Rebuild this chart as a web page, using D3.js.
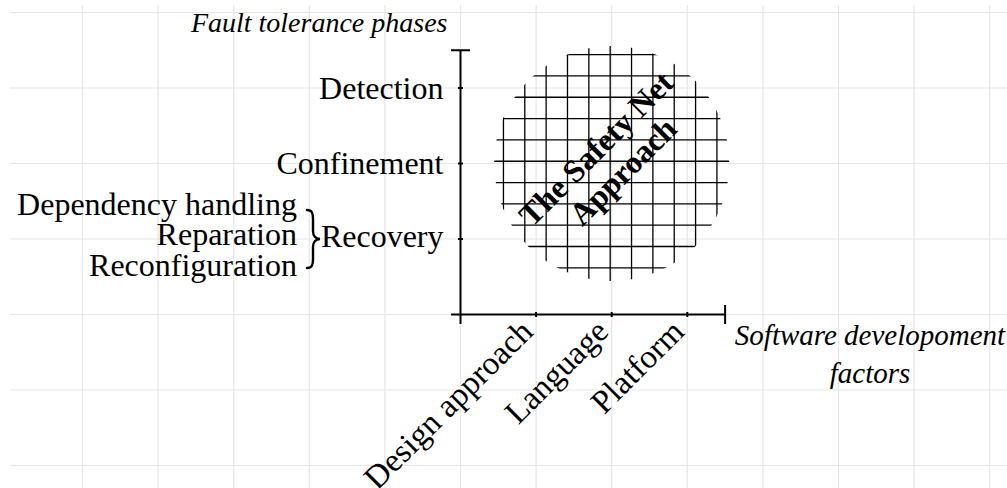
<!DOCTYPE html>
<html><head><meta charset="utf-8">
<script src="https://cdn.jsdelivr.net/npm/d3@7"></script>
<style>body{margin:0;background:#fff} svg{display:block}</style>
</head><body><svg id="chart" width="1007" height="488"></svg>
<script>
// ---- data ----
const phases = ["Recovery", "Confinement", "Detection"];
const phaseLevels = [1, 2, 3];
const factors = ["Design approach", "Language", "Platform"];
const factorLevels = [1, 2, 3];
const recoverySteps = ["Dependency handling", "Reparation", "Reconfiguration"];
const yTitle = ["Fault tolerance phases"];
const xTitle = ["Software developoment", "factors"];
const netLabel = ["The Safety Net", "Approach"];
const netCenter = [2, 2];          // (Language, Confinement)
const netRadius = [1.555];
const axisMax = [3.5];
const bgGridRange = [-5, 7];       // background grid in axis units (x)
const bgGridRangeY = [-2, 4];

// ---- layout ----
const svg = d3.select("#chart");
const W = 1007, H = 488;
const unitX = 75.6, unitY = 75.5;
const ox = 460.5, oy = 314.5;
const x = d3.scaleLinear().domain([0, axisMax[0]]).range([ox, ox + axisMax[0] * unitX]);
const y = d3.scaleLinear().domain([0, axisMax[0]]).range([oy, oy - axisMax[0] * unitY]);
const serif = "'Liberation Serif', 'Times New Roman', serif";

svg.append("rect").attr("width", W).attr("height", H).attr("fill", "#fff");

// background grid
const bg = svg.append("g").attr("stroke", "#e6e6e6").attr("stroke-width", 1.2);
bg.selectAll("line.v").data(d3.range(bgGridRange[0], bgGridRange[1] + 1)).join("line")
  .attr("class", "v").attr("x1", d => x(d)).attr("x2", d => x(d)).attr("y1", 5).attr("y2", H);
bg.selectAll("line.h").data(d3.range(bgGridRangeY[0], bgGridRangeY[1] + 1)).join("line")
  .attr("class", "h").attr("y1", d => y(d)).attr("y2", d => y(d)).attr("x1", 10).attr("x2", W);

// safety net: grid clipped by circle
const cx = x(netCenter[0]), cy = y(netCenter[1]);
const r = x(netCenter[0] + netRadius[0]) - cx;
svg.append("clipPath").attr("id", "netclip").append("circle").attr("cx", cx).attr("cy", cy).attr("r", r);
const step = 0.2824;
const offs = d3.range(-6, 7);
const net = svg.append("g").attr("clip-path", "url(#netclip)").attr("stroke", "#000").attr("stroke-width", 1.3);
net.selectAll("line.v").data(offs).join("line").attr("class", "v")
  .attr("x1", k => x(netCenter[0] - 0.02 + k * step)).attr("x2", k => x(netCenter[0] - 0.02 + k * step))
  .attr("y1", cy - r - 2).attr("y2", cy + r + 2);
net.selectAll("line.h").data(offs).join("line").attr("class", "h")
  .attr("y1", k => y(netCenter[1] + 0.03 + k * step)).attr("y2", k => y(netCenter[1] + 0.03 + k * step))
  .attr("x1", cx - r - 2).attr("x2", cx + r + 2);

// Safety net label
const nl = svg.append("g").attr("transform", `translate(${cx - 1},${cy}) rotate(-45)`)
  .attr("font-family", serif).attr("font-weight", "bold").attr("font-size", 32).attr("text-anchor", "middle");
nl.selectAll("text").data(netLabel).join("text")
  .attr("x", (d, i) => i ? 3 : 0).attr("y", (d, i) => i ? 25 : -10).text(d => d);

// axes (custom lines with bar caps)
const ax = svg.append("g").attr("stroke", "#000").attr("stroke-width", 2).attr("fill", "none");
const cap = 9.5;
ax.append("line").attr("x1", x(0)).attr("x2", x(0)).attr("y1", y(0) + cap).attr("y2", y(axisMax[0]));
ax.append("line").attr("x1", x(0) - cap).attr("x2", x(0) + cap).attr("y1", y(axisMax[0])).attr("y2", y(axisMax[0]));
ax.append("line").attr("x1", x(0) - cap).attr("x2", x(axisMax[0])).attr("y1", y(0)).attr("y2", y(0));
ax.append("line").attr("x1", x(axisMax[0])).attr("x2", x(axisMax[0])).attr("y1", y(0) - cap).attr("y2", y(0) + cap);
ax.selectAll("line.ty").data(phaseLevels).join("line").attr("class", "ty")
  .attr("x1", x(0) - 2.5).attr("x2", x(0) + 2.5).attr("y1", d => y(d)).attr("y2", d => y(d));
ax.selectAll("line.tx").data(factorLevels).join("line").attr("class", "tx")
  .attr("y1", y(0) - 2.5).attr("y2", y(0) + 2.5).attr("x1", d => x(d)).attr("x2", d => x(d));

// y axis labels via d3 axis
const yAxis = d3.axisLeft(y).tickValues(phaseLevels).tickFormat((d, i) => phases[i]).tickSize(0).tickPadding(17);
const gy = svg.append("g").attr("transform", `translate(${x(0)},0)`).call(yAxis);
gy.select(".domain").remove();
gy.selectAll("text").attr("font-family", serif).attr("font-size", 32).attr("fill", "#000")
  .attr("dy", d => /[gjpqy]/.test(phases[phaseLevels.indexOf(d)]) ? "0.22em" : "0.32em");

// x axis labels via d3 axis, rotated
const xAxis = d3.axisBottom(x).tickValues(factorLevels).tickFormat((d, i) => factors[i]).tickSize(0);
const gx = svg.append("g").attr("transform", `translate(0,${y(0)})`).call(xAxis);
gx.select(".domain").remove();
gx.selectAll("text").attr("font-family", serif).attr("font-size", 33).attr("fill", "#000")
  .attr("x", 0).attr("y", 0).attr("dy", 0).attr("text-anchor", "end")
  .attr("transform", "translate(-2,19) rotate(-45)");

// recovery sub-steps and brace
const ry = y(phaseLevels[0]);
svg.append("g").attr("font-family", serif).attr("font-size", 32).attr("text-anchor", "end")
  .selectAll("text").data(recoverySteps).join("text")
  .attr("x", 297).attr("y", (d, i) => ry - 24.3 + i * 30.5).text(d => d);
const bx = 307, bh = 29;
svg.append("path").attr("fill", "none").attr("stroke", "#000").attr("stroke-width", 2.4)
  .attr("stroke-linecap", "round")
  .attr("d", `M${bx},${ry - bh} C${bx + 5},${ry - bh} ${bx + 6},${ry - bh + 3} ${bx + 6},${ry - bh + 9}
   L${bx + 6},${ry - 8} C${bx + 6},${ry - 3} ${bx + 9},${ry} ${bx + 13},${ry}
   C${bx + 9},${ry} ${bx + 6},${ry + 3} ${bx + 6},${ry + 8}
   L${bx + 6},${ry + bh - 9} C${bx + 6},${ry + bh - 3} ${bx + 5},${ry + bh} ${bx},${ry + bh}`);

// axis titles
svg.append("text").attr("font-family", serif).attr("font-style", "italic").attr("font-size", 28)
  .attr("text-anchor", "end").attr("x", x(0) - 13).attr("y", 31.7).text(yTitle[0]);
svg.append("g").attr("font-family", serif).attr("font-style", "italic").attr("font-size", 29)
  .attr("text-anchor", "middle").selectAll("text").data(xTitle).join("text")
  .attr("x", 870).attr("y", (d, i) => 345 + i * 37.7).text(d => d);
</script></body></html>
